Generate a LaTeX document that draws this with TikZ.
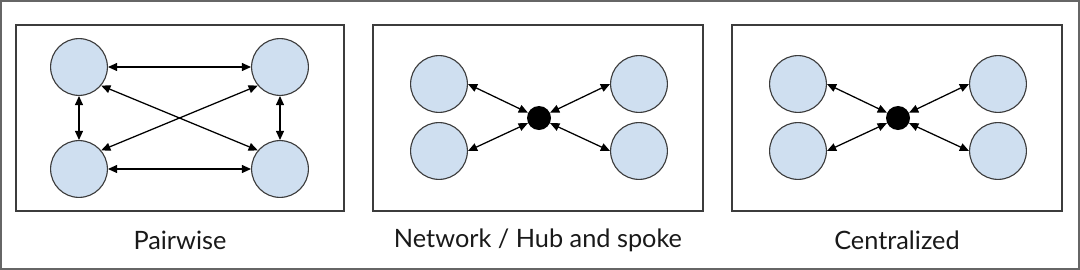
\documentclass[tikz,border=0pt]{standalone}
\usepackage{fontspec}
\setmainfont{Lato}
\usepackage{xcolor}
\usetikzlibrary{arrows.meta}
\definecolor{peerblue}{HTML}{CFDFF0}
\definecolor{edgegray}{HTML}{3C3C3C}
\tikzset{
  panel/.style={draw=edgegray,line width=1.1pt},
  peer/.style={circle,draw=edgegray,fill=peerblue,line width=0.8pt,minimum size=1.42cm,inner sep=0pt},
  hub/.style={circle,fill=black,minimum size=0.6cm,inner sep=0pt},
  darr/.style={{Triangle[length=2.3mm,width=2mm]}-{Triangle[length=2.3mm,width=2mm]},line width=0.9pt},
  lbl/.style={font=\fontsize{18}{21}\selectfont,text=black!90,inner sep=0pt},
}
\begin{document}
\begin{tikzpicture}[x=0.025cm,y=-0.025cm]
\useasboundingbox (0,0) rectangle (1080,270);
\draw[draw=black!60,line width=1.1pt] (1,1) rectangle (1079,269);
% pairwise
\draw[panel] (16,25) rectangle (344,211);
\foreach \c/\px/\py in {tl/79/67,tr/280/67,bl/79/169,br/280/169}
  \node[peer] (a-\c) at (\px,\py) {};
\draw[darr] (a-tl) -- (a-tr);
\draw[darr] (a-bl) -- (a-br);
\draw[darr] (a-tl) -- (a-bl);
\draw[darr] (a-tr) -- (a-br);
\draw[darr] (a-tl.-40) -- (a-br.140);
\draw[darr] (a-bl.40) -- (a-tr.220);
\node[lbl] (a-lbl) at (180,240) {Pairwise};
% hub and spoke, centralized
\foreach \n/\ox/\lab in {b/373/{Network / Hub and spoke},c/732/{Centralized}} {
  \draw[panel] (\ox,25) rectangle ++(330,186);
  \node[hub] (\n-hub) at (\ox+166,118) {};
  \foreach \c/\px/\py in {lt/66/84,lb/66/151,rt/266/84,rb/266/151}
    \node[peer] (\n-\c) at (\ox+\px,\py) {};
  \draw[darr] (\n-lt.east) -- (\n-hub);
  \draw[darr] (\n-lb.east) -- (\n-hub);
  \draw[darr] (\n-rt.west) -- (\n-hub);
  \draw[darr] (\n-rb.west) -- (\n-hub);
  \node[lbl] (\n-lbl) at (\ox+165,240) {\lab};
}
\end{tikzpicture}
\end{document}
